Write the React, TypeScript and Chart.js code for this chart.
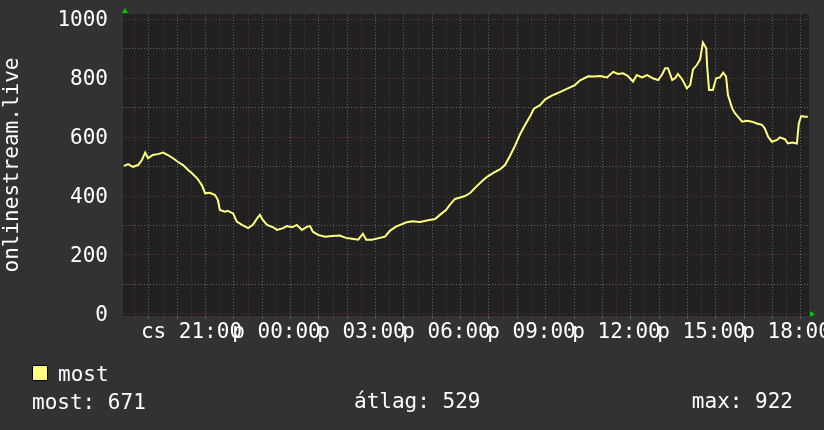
import React, { useEffect, useRef } from 'react';
import { Chart, registerables } from 'chart.js';

Chart.register(...registerables);

// minutes since Thursday 00:00
const sampleMinutes = [
  1117, 1126, 1136, 1147, 1155, 1162, 1168, 1178, 1189, 1200, 1210, 1221, 1231, 1242, 1253, 1261,
  1272, 1282, 1289, 1299, 1310, 1316, 1320, 1331, 1337, 1348, 1356, 1367, 1380, 1390, 1399, 1405,
  1411, 1420, 1433, 1441, 1454, 1462, 1473, 1483, 1494, 1505, 1511, 1517, 1528, 1543, 1558, 1574,
  1587, 1600, 1613, 1623, 1630, 1642, 1659, 1670, 1680, 1693, 1702, 1714, 1727, 1744, 1761, 1776,
  1786, 1799, 1807, 1818, 1829, 1839, 1850, 1862, 1875, 1886, 1901, 1913, 1924, 1934, 1945, 1956,
  1966, 1977, 1985, 1998, 2009, 2023, 2040, 2057, 2072, 2083, 2100, 2112, 2125, 2140, 2153, 2163,
  2174, 2184, 2195, 2203, 2214, 2225, 2237, 2248, 2256, 2263, 2269, 2278, 2284, 2290, 2299, 2309,
  2316, 2322, 2330, 2337, 2343, 2350, 2352, 2356, 2364, 2371, 2379, 2386, 2392, 2396, 2405, 2411,
  2417, 2426, 2436, 2447, 2457, 2468, 2474, 2481, 2489, 2500, 2506, 2517, 2523, 2532, 2542, 2546,
  2551, 2559, 2565,
];

const visitors = [
  502, 508, 499, 505, 522, 547, 528, 539, 542, 547, 539, 528, 516, 505, 488, 477,
  460, 437, 409, 411, 403, 386, 353, 347, 350, 341, 313, 302, 291, 302, 324, 336,
  319, 302, 294, 285, 291, 298, 294, 302, 285, 296, 298, 279, 268, 262, 264, 266,
  258, 255, 252, 272, 252, 252, 258, 262, 282, 296, 302, 310, 314, 312, 318, 322,
  336, 352, 370, 390, 395, 400, 410, 430, 450, 465, 480, 490, 505, 535, 570, 610,
  640, 670, 696, 708, 728, 740, 752, 765, 776, 792, 806, 805, 807, 802, 821, 814,
  816, 807, 788, 810, 802, 810, 799, 793, 810, 833, 833, 793, 799, 814, 796, 765,
  776, 829, 844, 863, 920, 901, 838, 759, 759, 799, 802, 818, 805, 742, 697, 680,
  669, 652, 655, 652, 646, 641, 629, 601, 584, 590, 599, 592, 578, 581, 578, 646,
  671, 669, 669,
];

const labelMinutes = [1260, 1440, 1620, 1800, 1980, 2160, 2340, 2520];
const timeLabels = ['cs 21:00', 'p 00:00', 'p 03:00', 'p 06:00', 'p 09:00', 'p 12:00', 'p 15:00', 'p 18:00'];
const yLabelValues = [0, 200, 400, 600, 800, 1000];
const axisTitle = 'onlinestream.live';
const legendLabel = 'most';
const statTexts = ['most: 671', 'átlag: 529', 'max: 922'];

const X_MIN = 1115;
const X_MAX = 2567.6;
const Y_MIN = -6.8;
const Y_MAX = 1017;

const BACK = '#323232';
const CANVAS = '#212121';
const MINOR = '#626262';
const MAJOR = '#6a3131';
const LINE = '#FFFF80';
const ARROW = '#00CC00';
const FONT = '"DejaVu Sans Mono", monospace';

const decorPlugin = {
  id: 'decor',
  beforeDraw(chart: any) {
    const { ctx, chartArea, width, height } = chart;
    ctx.save();
    ctx.fillStyle = BACK;
    ctx.fillRect(0, 0, width, height);
    ctx.fillStyle = CANVAS;
    ctx.fillRect(chartArea.left, chartArea.top, chartArea.right - chartArea.left, chartArea.bottom - chartArea.top);
    ctx.restore();
  },
  afterDraw(chart: any) {
    const { ctx, chartArea, scales } = chart;
    const y0 = scales.y.getPixelForValue(0);
    const ax = chartArea.left + 2;
    ctx.save();
    ctx.fillStyle = ARROW;
    ctx.beginPath();
    ctx.moveTo(ax, chartArea.top - 6);
    ctx.lineTo(ax - 3, chartArea.top - 1);
    ctx.lineTo(ax + 3, chartArea.top - 1);
    ctx.closePath();
    ctx.fill();
    ctx.beginPath();
    ctx.moveTo(chartArea.right + 6, y0);
    ctx.lineTo(chartArea.right + 1, y0 - 3);
    ctx.lineTo(chartArea.right + 1, y0 + 3);
    ctx.closePath();
    ctx.fill();

    // legend
    ctx.fillStyle = LINE;
    ctx.fillRect(32, 365, 16, 16);
    ctx.strokeStyle = '#000000';
    ctx.lineWidth = 1;
    ctx.strokeRect(32.5, 365.5, 15, 15);
    ctx.fillStyle = '#FFFFFF';
    ctx.font = '21px ' + FONT;
    ctx.textBaseline = 'alphabetic';
    ctx.textAlign = 'left';
    ctx.fillText(legendLabel, 58, 381);
    ctx.fillText(statTexts[0], 32, 409);
    ctx.fillText(statTexts[1], 354, 408);
    ctx.textAlign = 'right';
    ctx.fillText(statTexts[2], 793, 408);
    ctx.restore();
  },
};

export default function App() {
  const ref = useRef<HTMLCanvasElement | null>(null);

  useEffect(() => {
    document.body.style.margin = '0';
    const canvas = ref.current;
    if (!canvas) return;

    const xGrid: number[] = [];
    for (let m = 1140; m <= X_MAX; m += 30) xGrid.push(m);
    const yGrid: number[] = [];
    for (let v = 0; v <= 1000; v += 20) yGrid.push(v);

    const chart = new Chart(canvas, {
      type: 'line',
      data: {
        datasets: [
          {
            label: legendLabel,
            data: sampleMinutes.map((m, i) => ({ x: m, y: visitors[i] })),
            borderColor: LINE,
            borderWidth: 2,
            pointRadius: 0,
            tension: 0,
            fill: false,
          },
        ],
      },
      options: {
        animation: false,
        responsive: false,
        devicePixelRatio: 1,
        layout: { padding: { left: 0, top: 14, right: 15, bottom: 0 } },
        plugins: {
          legend: { display: false },
          tooltip: { enabled: false },
        },
        scales: {
          x: {
            type: 'linear',
            min: X_MIN,
            max: X_MAX,
            afterBuildTicks: (scale: any) => {
              scale.ticks = xGrid.map((v) => ({ value: v }));
            },
            afterFit: (scale: any) => {
              scale.height = 114;
              scale.paddingLeft = 0;
              scale.paddingRight = 0;
            },
            ticks: {
              autoSkip: false,
              maxRotation: 0,
              minRotation: 0,
              padding: 1,
              color: '#FFFFFF',
              font: { family: FONT, size: 21 },
              callback: (value: any) => {
                const idx = labelMinutes.indexOf(Number(value));
                return idx >= 0 ? timeLabels[idx] : '';
              },
            },
            grid: {
              color: (c: any) => (c.tick && c.tick.value % 60 === 0 ? MAJOR : MINOR),
              tickColor: (c: any) => (c.tick && c.tick.value % 60 === 0 ? MAJOR : MINOR),
              drawTicks: true,
              tickLength: 3,
              lineWidth: 1,
            },
            border: { display: false, dash: [1, 2] },
          },
          y: {
            type: 'linear',
            min: Y_MIN,
            max: Y_MAX,
            afterBuildTicks: (scale: any) => {
              scale.ticks = yGrid.map((v) => ({ value: v }));
            },
            afterFit: (scale: any) => {
              scale.width = 123;
              scale.paddingTop = 0;
              scale.paddingBottom = 0;
            },
            ticks: {
              padding: 15,
              labelOffset: 2,
              color: '#FFFFFF',
              font: { family: FONT, size: 21 },
              callback: (value: any) => (yLabelValues.includes(Number(value)) ? String(value) : ''),
            },
            grid: {
              color: (c: any) => (c.tick && c.tick.value % 200 === 0 ? MAJOR : MINOR),
              drawTicks: false,
              lineWidth: 1,
            },
            border: { display: false, dash: [1, 2] },
            title: {
              display: true,
              text: axisTitle,
              color: '#FFFFFF',
              font: { family: FONT, size: 21 },
              padding: { top: 0, bottom: 0 },
            },
          },
        },
      },
      plugins: [decorPlugin],
    });

    return () => {
      chart.destroy();
    };
  }, []);

  return <canvas ref={ref} width={824} height={430} style={{ display: 'block', width: 824, height: 430 }} />;
}
